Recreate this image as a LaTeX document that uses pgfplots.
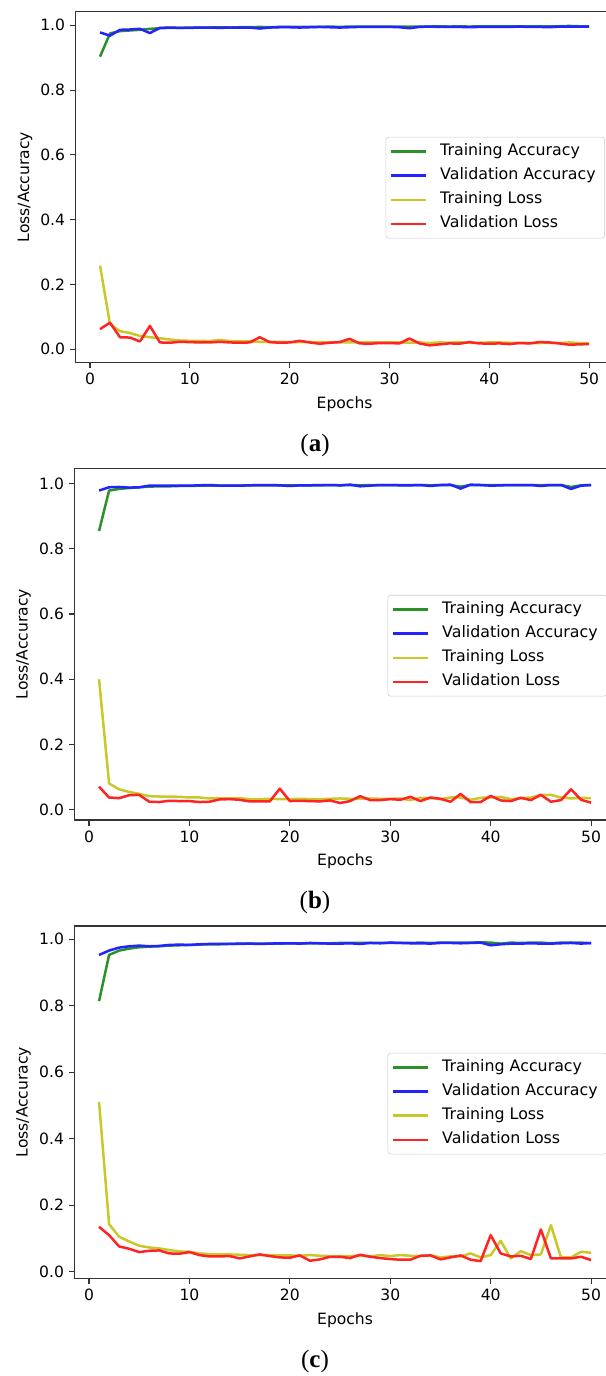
\documentclass[border=0pt]{standalone}
\usepackage{fontspec}
\setmainfont{DejaVu Sans}
\newfontfamily\capfont{Liberation Serif}
\usepackage{pgfplots}
\usepackage{pgfplotstable}
\pgfplotsset{compat=1.18}

\definecolor{mg}{RGB}{40,145,40}
\definecolor{mb}{RGB}{35,35,255}
\definecolor{my}{RGB}{200,200,40}
\definecolor{mr}{RGB}{255,35,35}

\pgfplotstableread{
e ta va tl vl
1 0.903 0.978 0.258 0.062
2 0.975 0.968 0.078 0.082
3 0.982 0.986 0.056 0.037
4 0.984 0.987 0.050 0.036
5 0.986 0.989 0.041 0.024
6 0.989 0.976 0.037 0.072
7 0.991 0.992 0.034 0.021
8 0.992 0.993 0.030 0.020
9 0.992 0.992 0.027 0.023
10 0.993 0.992 0.026 0.022
11 0.993 0.993 0.026 0.021
12 0.993 0.993 0.025 0.021
13 0.994 0.992 0.029 0.023
14 0.993 0.993 0.025 0.021
15 0.994 0.993 0.024 0.020
16 0.994 0.993 0.024 0.021
17 0.995 0.990 0.023 0.037
18 0.994 0.993 0.023 0.022
19 0.995 0.994 0.023 0.020
20 0.995 0.994 0.022 0.021
21 0.995 0.993 0.022 0.026
22 0.995 0.994 0.022 0.021
23 0.995 0.995 0.022 0.017
24 0.996 0.994 0.021 0.020
25 0.995 0.993 0.021 0.022
26 0.996 0.994 0.021 0.032
27 0.996 0.995 0.021 0.018
28 0.996 0.995 0.021 0.017
29 0.996 0.995 0.021 0.019
30 0.996 0.995 0.021 0.019
31 0.996 0.994 0.021 0.018
32 0.996 0.991 0.020 0.033
33 0.996 0.995 0.021 0.018
34 0.996 0.996 0.019 0.012
35 0.997 0.995 0.021 0.015
36 0.996 0.995 0.020 0.018
37 0.997 0.995 0.022 0.017
38 0.996 0.994 0.020 0.022
39 0.997 0.995 0.020 0.018
40 0.997 0.995 0.021 0.017
41 0.997 0.995 0.021 0.018
42 0.997 0.995 0.020 0.016
43 0.997 0.996 0.020 0.019
44 0.997 0.995 0.019 0.018
45 0.997 0.995 0.019 0.022
46 0.997 0.994 0.020 0.021
47 0.997 0.996 0.019 0.018
48 0.998 0.996 0.021 0.014
49 0.997 0.996 0.019 0.015
50 0.997 0.996 0.018 0.016
}\dataA

\pgfplotstableread{
e ta va tl vl
1 0.854 0.978 0.400 0.071
2 0.978 0.988 0.081 0.038
3 0.983 0.989 0.063 0.036
4 0.986 0.987 0.055 0.045
5 0.988 0.988 0.049 0.046
6 0.990 0.993 0.042 0.025
7 0.991 0.993 0.041 0.024
8 0.991 0.993 0.041 0.028
9 0.992 0.993 0.040 0.027
10 0.992 0.993 0.038 0.027
11 0.993 0.994 0.038 0.024
12 0.993 0.995 0.035 0.025
13 0.993 0.993 0.036 0.032
14 0.993 0.993 0.035 0.033
15 0.993 0.993 0.036 0.031
16 0.994 0.994 0.033 0.026
17 0.994 0.995 0.033 0.026
18 0.994 0.995 0.034 0.026
19 0.994 0.994 0.033 0.065
20 0.994 0.992 0.033 0.027
21 0.994 0.994 0.034 0.028
22 0.994 0.994 0.033 0.027
23 0.994 0.995 0.033 0.026
24 0.995 0.995 0.034 0.029
25 0.994 0.994 0.035 0.021
26 0.995 0.996 0.034 0.027
27 0.994 0.991 0.034 0.042
28 0.995 0.993 0.035 0.030
29 0.995 0.995 0.034 0.030
30 0.995 0.995 0.034 0.033
31 0.995 0.994 0.035 0.031
32 0.995 0.994 0.030 0.040
33 0.995 0.995 0.037 0.027
34 0.994 0.992 0.036 0.038
35 0.995 0.995 0.033 0.034
36 0.995 0.996 0.038 0.025
37 0.990 0.984 0.038 0.049
38 0.995 0.996 0.031 0.024
39 0.995 0.995 0.037 0.024
40 0.995 0.993 0.038 0.043
41 0.995 0.994 0.040 0.029
42 0.995 0.995 0.033 0.027
43 0.995 0.995 0.036 0.037
44 0.995 0.995 0.038 0.030
45 0.994 0.992 0.046 0.046
46 0.995 0.995 0.046 0.025
47 0.995 0.995 0.038 0.030
48 0.989 0.983 0.035 0.063
49 0.994 0.993 0.037 0.031
50 0.995 0.995 0.036 0.022
}\dataB

\pgfplotstableread{
e ta va tl vl
1 0.814 0.953 0.511 0.135
2 0.953 0.966 0.143 0.110
3 0.966 0.975 0.105 0.076
4 0.972 0.979 0.091 0.069
5 0.976 0.981 0.078 0.059
6 0.978 0.979 0.073 0.063
7 0.979 0.980 0.070 0.064
8 0.981 0.983 0.065 0.055
9 0.982 0.984 0.061 0.054
10 0.983 0.983 0.060 0.059
11 0.984 0.985 0.055 0.050
12 0.985 0.986 0.053 0.046
13 0.985 0.986 0.052 0.046
14 0.986 0.986 0.052 0.047
15 0.986 0.987 0.051 0.040
16 0.987 0.987 0.050 0.046
17 0.987 0.986 0.050 0.052
18 0.987 0.987 0.050 0.047
19 0.987 0.988 0.049 0.043
20 0.988 0.988 0.049 0.042
21 0.988 0.987 0.048 0.049
22 0.988 0.989 0.050 0.033
23 0.988 0.988 0.048 0.037
24 0.988 0.987 0.047 0.045
25 0.989 0.987 0.047 0.045
26 0.989 0.988 0.047 0.041
27 0.989 0.986 0.048 0.051
28 0.989 0.989 0.046 0.045
29 0.989 0.988 0.050 0.041
30 0.989 0.990 0.047 0.038
31 0.989 0.989 0.050 0.036
32 0.989 0.988 0.048 0.036
33 0.990 0.988 0.047 0.048
34 0.989 0.987 0.050 0.049
35 0.990 0.989 0.043 0.037
36 0.990 0.989 0.046 0.043
37 0.990 0.988 0.046 0.049
38 0.990 0.989 0.055 0.036
39 0.991 0.990 0.043 0.032
40 0.990 0.982 0.050 0.110
41 0.987 0.985 0.093 0.055
42 0.990 0.987 0.040 0.046
43 0.989 0.987 0.062 0.048
44 0.990 0.988 0.050 0.038
45 0.990 0.987 0.052 0.127
46 0.988 0.987 0.140 0.040
47 0.990 0.988 0.043 0.040
48 0.990 0.989 0.043 0.040
49 0.990 0.987 0.060 0.045
50 0.988 0.989 0.057 0.035
}\dataC

\pgfplotsset{
  mpl/.style={
    scale only axis,
    xmin=-1.45, xmax=52.45,
    xtick={0,10,20,30,40,50},
    ytick={0,0.2,0.4,0.6,0.8,1.0},
    tick align=outside,
    tick pos=left,
    major tick length=4pt,
    tick style={line width=0.8pt, black!80},
    axis line style={line width=0.9pt, black!80},
    font=\fontsize{11.2}{13}\selectfont,
    /pgf/number format/assume math mode=true,
    yticklabel style={/pgf/number format/.cd, fixed, fixed zerofill, precision=1},
    xlabel={Epochs},
    ylabel={Loss/Accuracy},
    ylabel style={at={(axis description cs:-0.094,0.5)}, anchor=center},
    xlabel style={at={(axis description cs:0.5,-0.118)}, anchor=center},
    every axis plot/.append style={line width=1.8pt, line join=round},
    legend cell align=left,
    legend image code/.code={\draw[##1, line width=1.8pt] (0pt,0pt) -- (25pt,0pt);},
    legend style={anchor=north east, draw=black!20, rounded corners=2pt, fill=white,
      font=\fontsize{11.4}{13}\selectfont, inner xsep=3pt, inner ysep=3pt, row sep=2.9pt,
      nodes={inner ysep=2pt, inner xsep=3.5pt, text height=8pt, text depth=2.5pt},
      /tikz/every odd column/.append style={column sep=5.8pt}},
  }
}

\begin{document}
\begin{tikzpicture}
\useasboundingbox (0pt,0pt) rectangle (436.32pt,990.72pt);
\clip (0pt,0pt) rectangle (436.32pt,990.72pt);

\begin{axis}[mpl, at={(54.4pt,729.7pt)}, anchor=south west,
  width=387.4pt, height=252.6pt, ymin=-0.041, ymax=1.042,
  legend style={at={(0.984,0.643)}}]
\addplot[mg] table[x=e,y=ta] {\dataA};
\addplot[mb] table[x=e,y=va] {\dataA};
\addplot[my] table[x=e,y=tl] {\dataA};
\addplot[mr] table[x=e,y=vl] {\dataA};
\legend{Training Accuracy, Validation Accuracy, Training Loss, Validation Loss}
\end{axis}

\begin{axis}[mpl, at={(53.6pt,400.3pt)}, anchor=south west,
  width=389.7pt, height=253.2pt, ymin=-0.031, ymax=1.046,
  legend style={at={(0.984,0.640)}}]
\addplot[mg] table[x=e,y=ta] {\dataB};
\addplot[mb] table[x=e,y=va] {\dataB};
\addplot[my] table[x=e,y=tl] {\dataB};
\addplot[mr] table[x=e,y=vl] {\dataB};
\legend{Training Accuracy, Validation Accuracy, Training Loss, Validation Loss}
\end{axis}

\begin{axis}[mpl, at={(53.6pt,70.3pt)}, anchor=south west,
  width=389.7pt, height=253.7pt, ymin=-0.020, ymax=1.040,
  legend style={at={(0.984,0.640)}}]
\addplot[mg] table[x=e,y=ta] {\dataC};
\addplot[mb] table[x=e,y=va] {\dataC};
\addplot[my] table[x=e,y=tl] {\dataC};
\addplot[mr] table[x=e,y=vl] {\dataC};
\legend{Training Accuracy, Validation Accuracy, Training Loss, Validation Loss}
\end{axis}

\node[font=\capfont\fontsize{18}{20}\selectfont] at (226.8pt,670.3pt) {(\textbf{a})};
\node[font=\capfont\fontsize{18}{20}\selectfont] at (226.8pt,340.6pt) {(\textbf{b})};
\node[font=\capfont\fontsize{18}{20}\selectfont] at (226.8pt,10.3pt) {(\textbf{c})};
\end{tikzpicture}
\end{document}
